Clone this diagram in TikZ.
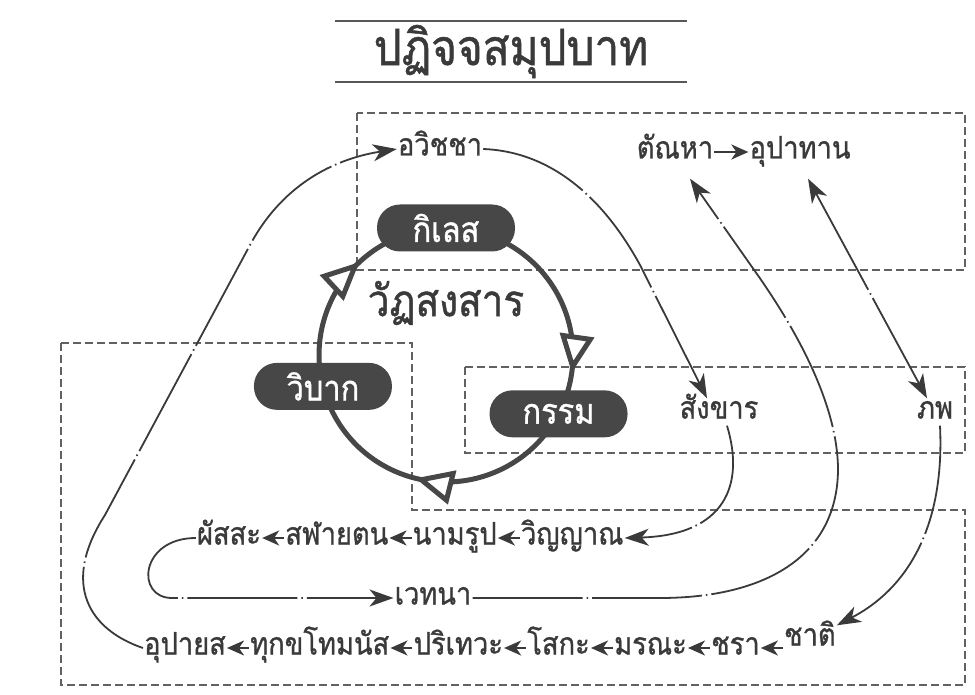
\documentclass[tikz,border=0pt]{standalone}
\usepackage{fontspec}
\newfontfamily\thai[Script=Thai, FakeBold=1, FakeStretch=0.88]{Loma}
\usetikzlibrary{arrows.meta, positioning, calc, backgrounds, decorations.markings}
\definecolor{ink}{HTML}{3A3A3A}
\definecolor{pill}{HTML}{474747}

\begin{document}
\begin{tikzpicture}[
    x=1pt, y=-1pt,
    node distance=22pt,
    hd/.tip={Stealth[length=24pt, width=17pt, inset=7pt]},
    word/.style={font=\thai\fontsize{31}{35}\selectfont, text=ink,
                 inner sep=1pt, text height=19pt, text depth=6pt},
    pillbox/.style={rectangle, rounded corners=23pt, fill=pill, text=white,
                    minimum width=138pt, minimum height=47pt,
                    font=\thai\fontsize{35}{39}\selectfont},
    flow/.style={-hd, draw=ink, line width=1.8pt,
                 dash pattern=on 110pt off 4pt on 1.5pt off 4pt},
    sarr/.style={-{Stealth[length=17pt, width=15pt, inset=5pt]}, draw=ink, line width=2.2pt},
    zone/.style={draw=ink!80, line width=1.1pt, dash pattern=on 8pt off 4pt},
    cyc/.style={draw=pill, line width=5pt,
                decoration={markings, mark=at position #1 with
                  {\arrow{Triangle[length=38pt, width=34pt, fill=white]}}},
                postaction={decorate}},
    titlerule/.style={draw=ink!85, line width=2.2pt},
]
\useasboundingbox (0,0) rectangle (975,695);

\node[font=\thai\fontsize{50}{54}\selectfont, text=ink,
      minimum width=351pt, minimum height=57pt] (title) at (511,51.5) {ปฏิจจสมุปบาท};
\draw[titlerule] (title.north west) -- (title.north east);
\draw[titlerule] (title.south west) -- (title.south east);

\coordinate (wc) at (446,355);
\node[pillbox] (kil) at ($(wc)+(-90:127)$) {กิเลส};
\node[pillbox] (kam) at ($(wc)+(27.6:127)$) {กรรม};
\node[pillbox] (vip) at ($(wc)+(165.7:127)$) {วิบาก};
\node[font=\thai\fontsize{44}{48}\selectfont, text=ink] (samsara) at (446,303) {วัฏสงสาร};

\begin{scope}[on background layer]
    \draw[zone] (357,113) rectangle (965,270);
    \draw[zone] (465,367) rectangle (965,453);
    \draw[zone] (61,343) -| (412,510) -| (965,685) -- (61,685) -- cycle;
    \draw[cyc=0.833] (kil.center) arc[start angle=-90, end angle=27.6, radius=127];
    \draw[cyc=0.553] (kam.center) arc[start angle=27.6, end angle=165.7, radius=127];
    \draw[cyc=0.588] (vip.center) arc[start angle=165.7, end angle=270, radius=127];
\end{scope}

\node[word] (avi) at (440,149) {อวิชชา};
\node[word] (tan) at (675,152) {ตัณหา};
\node[word, right=34pt of tan] (upa) {อุปาทาน};
\node[word] (sank) at (719,412) {สังขาร};
\node[word] (bhav) at (935,412) {ภพ};

\node[word] (pha) at (229,538) {ผัสสะ};
\node[word, right=of pha] (sal) {สฬายตน};
\node[word, right=of sal] (nam) {นามรูป};
\node[word, right=of nam] (vin) {วิญญาณ};
\node[word] (ved) at (433,598) {เวทนา};

\node[word] (upay) at (185,648) {อุปายส};
\node[word, right=of upay] (dukk) {ทุกขโทมนัส};
\node[word, right=of dukk] (pari) {ปริเทวะ};
\node[word, right=of pari] (sok) {โสกะ};
\node[word, right=of sok] (mar) {มรณะ};
\node[word, right=of mar] (jar) {ชรา};
\node[word, right=of jar, yshift=9pt] (jat) {ชาติ};

\draw[sarr] (tan) -- (upa);
\draw[sarr] (sal) -- (pha);
\draw[sarr] (nam) -- (sal);
\draw[sarr] (vin) -- (nam);
\draw[sarr] (dukk) -- (upay);
\draw[sarr] (pari) -- (dukk);
\draw[sarr] (sok) -- (pari);
\draw[sarr] (mar) -- (sok);
\draw[sarr] (jar) -- (mar);
\draw[sarr] (jat.west |- jar) -- (jar);

\draw[flow] (upay.west) .. controls (90,630) and (60,585) .. (105,515)
    -- (250,245) .. controls (285,180) and (340,158) .. (avi.west);
\draw[flow] (avi.east) .. controls (560,152) and (610,210) .. (640,265)
    -- ([xshift=-12pt]sank.north);
\draw[flow] ([xshift=8pt]sank.south) .. controls (745,485) and (725,535) .. (vin.east);
\draw[flow] (ved.east) -- (660,598) .. controls (760,598) and (837,560) .. (838,470)
    .. controls (838,400) and (790,320) .. (752,267)
    -- ([xshift=15pt, yshift=-13pt]tan.south);
\draw[flow, hd-hd] ([xshift=8pt, yshift=-13pt]upa.south) -- ([xshift=-8pt]bhav.north);
\draw[flow] ([xshift=5pt]bhav.south) .. controls (945,530) and (905,590) .. (jat.north east);
\draw[flow] (pha.west) .. controls (140,538) and (135,598) .. (172,598) -- (ved.west);
\end{tikzpicture}
\end{document}
